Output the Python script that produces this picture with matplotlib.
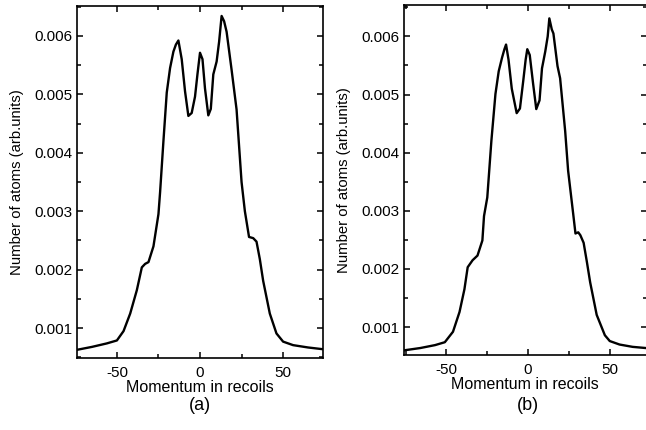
import matplotlib
matplotlib.use('Agg')
import matplotlib.pyplot as plt
from matplotlib.ticker import MultipleLocator, FormatStrFormatter
from matplotlib.transforms import blended_transform_factory

plt.rcParams['font.family'] = ['Liberation Sans', 'DejaVu Sans']
plt.rcParams['axes.unicode_minus'] = False

# panel (a): momentum (recoils) vs number of atoms
mom_a = [-74, -65, -56, -50, -46, -42, -38, -35, -33, -31, -28, -25, -24, -22, -20,
         -18, -16, -14.5, -13, -11, -9, -7, -5, -3, -1.5, 0, 1.5, 3, 5, 6.5, 8, 10,
         11.5, 13, 14.5, 16, 19, 22, 25, 27, 29.5, 32, 34, 36, 38, 42, 46, 50, 56,
         65, 74]
atoms_a = [0.00063, 0.00068, 0.00074, 0.00079, 0.00095, 0.00125, 0.00165, 0.00204,
           0.00210, 0.00213, 0.00240, 0.00295, 0.00333, 0.00420, 0.00503, 0.00545,
           0.00573, 0.00585, 0.00592, 0.00560, 0.00505, 0.00463, 0.00468, 0.00496,
           0.00535, 0.00571, 0.00560, 0.00510, 0.00464, 0.00475, 0.00534, 0.00556,
           0.00590, 0.00634, 0.00625, 0.00607, 0.00542, 0.00474, 0.00350, 0.00300,
           0.00256, 0.00254, 0.00248, 0.00218, 0.00181, 0.00125, 0.00091, 0.00077,
           0.00071, 0.00067, 0.00064]

# panel (b)
mom_b = [-76, -66, -57, -51, -46, -42, -39, -37, -34, -31, -28, -27, -25, -22.5, -20,
         -18, -16, -14.5, -13.5, -12, -10, -7, -5, -3, -1.5, -0.5, 1, 3, 5, 7, 8.5,
         10.5, 12, 13, 14.5, 15.5, 18, 19.6, 22.7, 24.5, 27.6, 29, 30.7, 32, 34, 36,
         38, 42, 47, 50, 56, 64, 72]
atoms_b = [0.00060, 0.00064, 0.00069, 0.00074, 0.00092, 0.00126, 0.00165, 0.00203,
           0.00215, 0.00223, 0.00249, 0.00291, 0.00323, 0.00420, 0.00501, 0.00540,
           0.00563, 0.00578, 0.00586, 0.00560, 0.00510, 0.00468, 0.00476, 0.00523,
           0.00560, 0.00578, 0.00568, 0.00520, 0.00475, 0.00490, 0.00545, 0.00574,
           0.00600, 0.00631, 0.00612, 0.00605, 0.00549, 0.00528, 0.00437, 0.00369,
           0.00295, 0.00261, 0.00263, 0.00258, 0.00245, 0.00212, 0.00177, 0.00121,
           0.00086, 0.00076, 0.00070, 0.00066, 0.00064]

fig = plt.figure(figsize=(6.46, 4.30), dpi=100)
ax_a = fig.add_axes([77 / 646, 1 - 358 / 430, 246 / 646, 352 / 430])
ax_b = fig.add_axes([404 / 646, 1 - 355 / 430, 242.5 / 646, 350 / 430])

panels = [(ax_a, mom_a, atoms_a, (-74, 74), (0.00049, 0.00651), '(a)'),
          (ax_b, mom_b, atoms_b, (-76, 72.5), (0.00052, 0.00654), '(b)')]

for ax, x, y, xl, yl, tag in panels:
    ax.plot(x, y, color='black', linewidth=1.7)
    ax.set_xlim(*xl)
    ax.set_ylim(*yl)
    ax.xaxis.set_major_locator(MultipleLocator(50))
    ax.xaxis.set_minor_locator(MultipleLocator(25))
    ax.yaxis.set_major_locator(MultipleLocator(0.001))
    ax.yaxis.set_minor_locator(MultipleLocator(0.0005))
    ax.yaxis.set_major_formatter(FormatStrFormatter('%.3f'))
    ax.tick_params(which='both', direction='in', top=True, right=True,
                   labelsize=11, width=1.1)
    ax.tick_params(which='major', length=4.5)
    ax.tick_params(axis='x', which='major', pad=6)
    ax.tick_params(axis='y', which='major', pad=3.5)
    ax.tick_params(which='minor', length=3)
    for s in ax.spines.values():
        s.set_linewidth(1.2)
    ax.set_xlabel('Momentum in recoils', fontsize=11.5, labelpad=0)
    ax.set_ylabel('Number of atoms (arb.units)', fontsize=10.7, labelpad=7)
    # panel tag sits under the x = 0 tick
    tr = blended_transform_factory(ax.transData, fig.transFigure)
    ax.text(0, 1 - 405 / 430, tag, transform=tr, ha='center', va='center', fontsize=13)

fig.savefig('out.png', dpi=100)
